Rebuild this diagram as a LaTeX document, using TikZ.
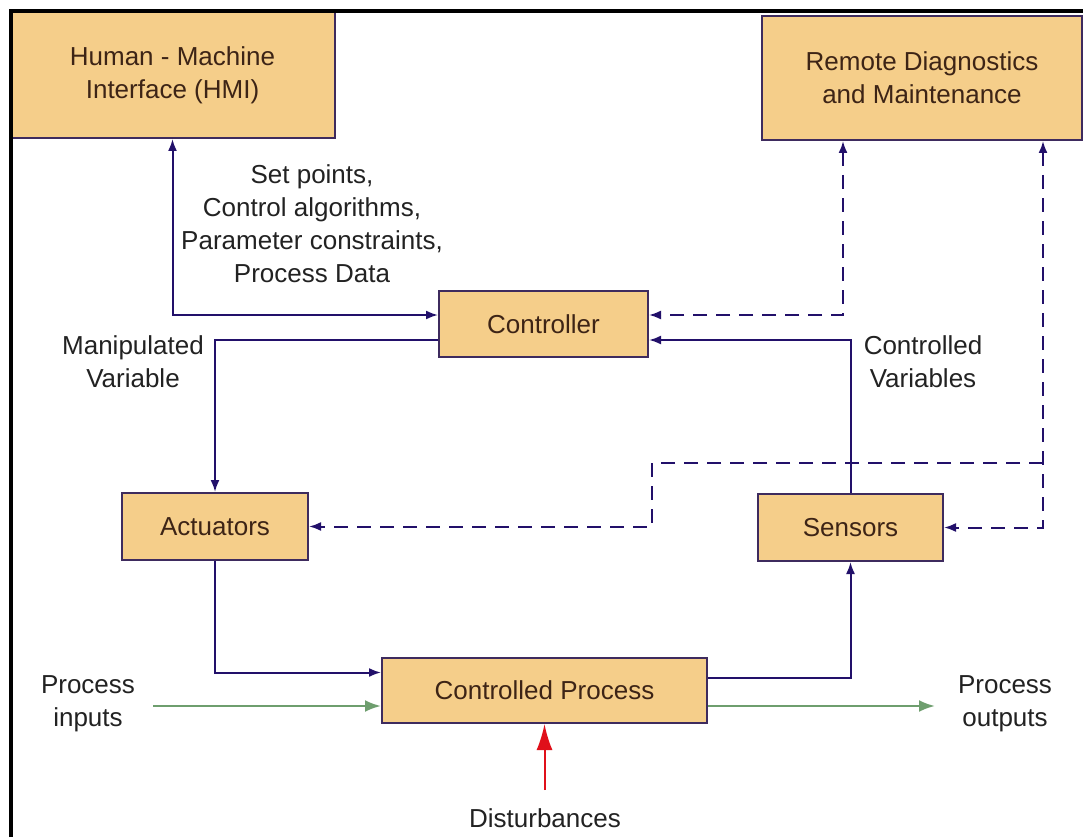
\documentclass[tikz,border=0pt]{standalone}
\usepackage{fontspec}
\setmainfont{Liberation Sans}
\usetikzlibrary{arrows.meta}
\definecolor{boxfill}{HTML}{F5CE8A}
\definecolor{boxedge}{HTML}{3E2B5E}
\definecolor{boxtext}{HTML}{3D2416}
\definecolor{navy}{HTML}{22106A}
\definecolor{flowgreen}{HTML}{6E9E6E}
\definecolor{distred}{HTML}{E0101A}
\definecolor{labeltext}{HTML}{222222}
\begin{document}
\begin{tikzpicture}[x=1pt,y=-1pt,
  every node/.style={font=\fontsize{26}{33}\selectfont},
  block/.style={draw=boxedge,line width=2pt,fill=boxfill,text=boxtext,
    align=center,inner sep=0pt},
  lbl/.style={text=labeltext,align=center,inner sep=0pt},
  link/.style={draw=navy,line width=2pt,
    arrows={-Latex[length=12pt,width=9pt]}},
  dlink/.style={link,dash pattern=on 14pt off 9pt},
  bothlink/.style={arrows={Latex[length=12pt,width=9pt]-Latex[length=12pt,width=9pt]}},
  flow/.style={draw=flowgreen,line width=2.5pt,arrows={-Latex[length=16pt,width=12pt]}},
  dist/.style={draw=distred,line width=2pt,arrows={-Latex[length=26pt,width=16pt]}}]
\useasboundingbox (0,0) rectangle (1083,837);
\fill[white] (0,0) rectangle (1083,837);

% blocks
\node[block,minimum width=325pt,minimum height=126pt] (hmi) at (172.5,75) {Human - Machine\\Interface (HMI)};
\node[block,minimum width=320pt,minimum height=124pt] (rem) at (922,78) {Remote Diagnostics\\and Maintenance};
\node[block,minimum width=209pt,minimum height=66pt] (ctrl) at (543.5,324) {Controller};
\node[block,minimum width=186pt,minimum height=67pt] (act) at (215,526.5) {Actuators};
\node[block,minimum width=185pt,minimum height=67pt] (sen) at (850.5,527.5) {Sensors};
\node[block,minimum width=325pt,minimum height=65pt] (cp) at (544.5,690.5) {Controlled Process};

% outer frame on top and left
\draw[black,line width=4pt] (11,837) -- (11,11) -- (1083,11);

% labels
\node[lbl] (setp) at (312,224) {Set points,\\Control algorithms,\\Parameter constraints,\\Process Data};
\node[lbl] (manv) at (133,361.5) {Manipulated\\Variable};
\node[lbl] (ctlv) at (923,362) {Controlled\\Variables};
\node[lbl] (pinl) at (88,704) {Process\\inputs};
\node[lbl] (poutl) at (1005,704) {Process\\outputs};
\node[lbl] (distl) at (545,818) {Disturbances};

% control loop
\draw[link,bothlink] (hmi.south) |- ([yshift=9pt]ctrl.west);
\draw[link] ([yshift=-16pt]ctrl.west) -| (act.north);
\draw[link] (act.south) |- ([yshift=18pt]cp.west);
\draw[link] ([yshift=13pt]cp.east) -| (sen.south);
\draw[link] (sen.north) |- ([yshift=-16pt]ctrl.east);

% remote diagnostics paths
\draw[dlink,bothlink] ([xshift=-79pt]rem.south) |- ([yshift=9pt]ctrl.east);
\draw[dlink,bothlink] ([xshift=121pt]rem.south) |- (sen.east);
\coordinate (br) at (1043,463);
\coordinate (jog) at (652,526.5);
\draw[dlink] (br) -| (jog) -- (act.east);

% process flows
\coordinate (pin) at (153,706);
\coordinate (pout) at (935,706);
\coordinate (dsrc) at (544.5,790);
\draw[flow] (pin) -- (cp.west |- pin);
\draw[flow] (cp.east |- pout) -- (pout);
\draw[dist] (dsrc) -- (cp.south);
\end{tikzpicture}
\end{document}
